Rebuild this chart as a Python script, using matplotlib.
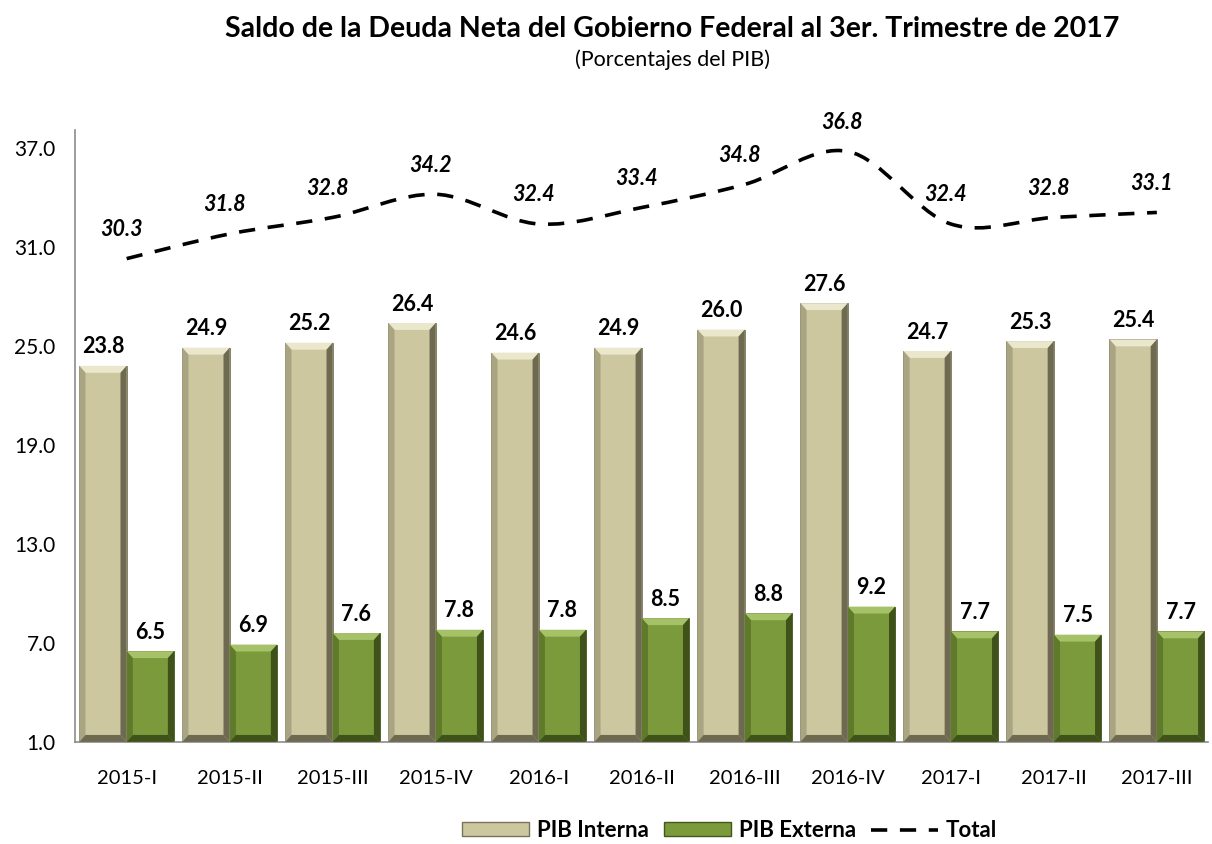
"""Saldo de la Deuda Neta del Gobierno Federal al 3er. Trimestre de 2017."""

import numpy as np
import matplotlib.pyplot as plt
from matplotlib.patches import Polygon, PathPatch, Patch
from matplotlib.lines import Line2D
from matplotlib.path import Path

plt.rcParams["font.family"] = ["Lato", "DejaVu Sans"]

# datos
trimestres = ["2015-I", "2015-II", "2015-III", "2015-IV", "2016-I", "2016-II",
              "2016-III", "2016-IV", "2017-I", "2017-II", "2017-III"]
interna = [23.8, 24.9, 25.2, 26.4, 24.6, 24.9, 26.0, 27.6, 24.7, 25.3, 25.4]
externa = [6.5, 6.9, 7.6, 7.8, 7.8, 8.5, 8.8, 9.2, 7.7, 7.5, 7.7]
total = [30.3, 31.8, 32.8, 34.2, 32.4, 33.4, 34.8, 36.8, 32.4, 32.8, 33.1]
yticks = [1.0, 7.0, 13.0, 19.0, 25.0, 31.0, 37.0]

base = 1.0
x = np.arange(len(trimestres))
w = 0.46

fig = plt.figure(figsize=(12.12, 8.44), dpi=100)
ax = fig.add_axes([0.062, 0.121, 0.935, 0.725])

ax.set_xlim(-0.5, len(trimestres) - 0.5)
ax.set_ylim(base, 38.1)


def bisel(ax, bars, claro, oscuro, medio):
    # efecto de bisel sobre cada barra
    dx, dy = 0.06, 0.42
    for b in bars:
        x0, y0 = b.get_x(), b.get_y()
        x1, y1 = x0 + b.get_width(), y0 + b.get_height()
        caras = [
            ([(x0, y1), (x1, y1), (x1 - dx, y1 - dy), (x0 + dx, y1 - dy)], claro),
            ([(x0, y0), (x0, y1), (x0 + dx, y1 - dy), (x0 + dx, y0 + dy)], medio),
            ([(x1, y0), (x1, y1), (x1 - dx, y1 - dy), (x1 - dx, y0 + dy)], oscuro),
            ([(x0, y0), (x1, y0), (x1 - dx, y0 + dy), (x0 + dx, y0 + dy)], oscuro),
        ]
        for pts, c in caras:
            ax.add_patch(Polygon(pts, closed=True, facecolor=c, edgecolor="none", zorder=3))


b1 = ax.bar(x - w / 2, np.array(interna) - base, w, bottom=base,
            color="#cdc7a0", edgecolor="#77735a", linewidth=0.6, zorder=2)
b2 = ax.bar(x + w / 2, np.array(externa) - base, w, bottom=base,
            color="#7b9a3c", edgecolor="#44561c", linewidth=0.6, zorder=2)
bisel(ax, b1, "#ebe7cc", "#6e6a52", "#a9a482")
bisel(ax, b2, "#a6c269", "#3f521a", "#5f7a2a")

# etiquetas de las barras
for xi, v in zip(x, interna):
    ax.annotate(f"{v:.1f}", (xi - w / 2, v), xytext=(0, 6), textcoords="offset points",
                ha="center", va="bottom", fontsize=15.5, fontweight="bold")
for xi, v in zip(x, externa):
    ax.annotate(f"{v:.1f}", (xi + w / 2, v), xytext=(0, 6), textcoords="offset points",
                ha="center", va="bottom", fontsize=15.5, fontweight="bold")

# línea suavizada del total (Catmull-Rom -> Bezier)
pts = np.column_stack([x, total]).astype(float)
verts = [pts[0]]
codes = [Path.MOVETO]
for i in range(len(pts) - 1):
    p0 = pts[i - 1] if i > 0 else pts[i]
    p1, p2 = pts[i], pts[i + 1]
    p3 = pts[i + 2] if i + 2 < len(pts) else pts[i + 1]
    c1 = p1 + (p2 - p0) / 6
    c2 = p2 - (p3 - p1) / 6
    verts += [c1, c2, p2]
    codes += [Path.CURVE4] * 3
ax.add_patch(PathPatch(Path(verts, codes), facecolor="none", edgecolor="black",
                       linewidth=2.6, linestyle=(0, (4.5, 3.5)), zorder=4))

for xi, v in zip(x, total):
    ax.annotate(f"{v:.1f}", (xi, v), xytext=(-4, 21), textcoords="offset points",
                ha="center", va="center", fontsize=15.5, fontweight="bold", style="italic")

# ejes
ax.set_xticks(x)
ax.set_xticklabels(trimestres, fontsize=14.5)
ax.set_yticks(yticks)
ax.set_yticklabels([f"{t:.1f}" for t in yticks], fontsize=15)
ax.tick_params(length=0)
ax.tick_params(axis="y", pad=14)
ax.tick_params(axis="x", pad=20)
for s in ["top", "right"]:
    ax.spines[s].set_visible(False)
for s in ["left", "bottom"]:
    ax.spines[s].set_color("#8c8c8c")
    ax.spines[s].set_linewidth(1.2)

# títulos
fig.text(0.555, 0.966, "Saldo de la Deuda Neta del Gobierno Federal al 3er. Trimestre de 2017",
         ha="center", va="center", fontsize=20.5, fontweight="bold")
fig.text(0.555, 0.929, "(Porcentajes del PIB)", ha="center", va="center", fontsize=15.5)

# leyenda
handles = [Patch(facecolor="#cdc7a0", edgecolor="#77735a"),
           Patch(facecolor="#7b9a3c", edgecolor="#44561c"),
           Line2D([], [], color="black", linewidth=2.6, linestyle=(0, (4.5, 3.5)))]
fig.legend(handles, ["PIB Interna", "PIB Externa", "Total"], loc="center",
           bbox_to_anchor=(0.602, 0.016), ncol=3, frameon=False,
           prop={"size": 16, "weight": "bold"}, handlelength=3.0, handleheight=0.6,
           columnspacing=0.7, handletextpad=0.35)

plt.savefig("out.png", dpi=100)
